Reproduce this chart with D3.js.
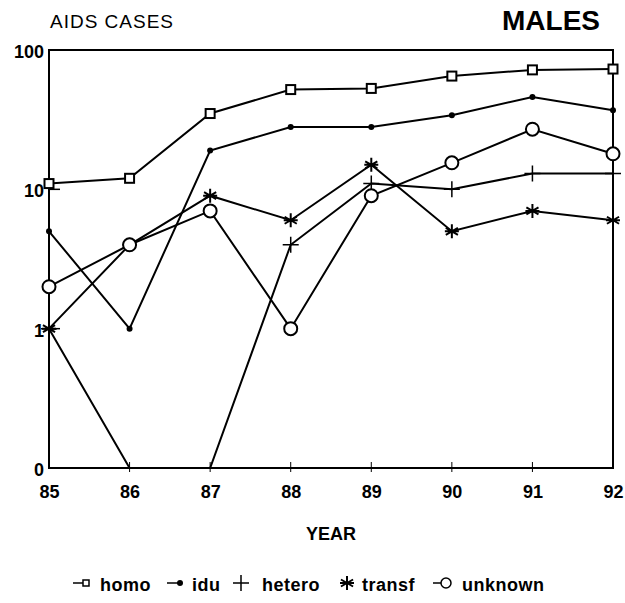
<!DOCTYPE html>
<html>
<head>
<meta charset="utf-8">
<script src="https://cdn.jsdelivr.net/npm/d3@7"></script>
<style>
  body { margin: 0; background: #fff; }
  text { font-family: "Liberation Sans", Arial, sans-serif; fill: #000; }
</style>
</head>
<body>
<script>
// years along the bottom (0 sits on the floor)
var years = [85, 86, 87, 88, 89, 90, 91, 92];
var homo = [11, 12, 35, 52, 53, 65, 72, 73];
var idu = [5, 1, 19, 28, 28, 34, 46, 37];
var hetero = [1, 0, 0, 4, 11, 10, 13, 13];
var transf = [1, 4, 9, 6, 15, 5, 7, 6];
var unknown = [2, 4, 7, 1, 9, 15.5, 27, 18];
var yTicks = [100, 10, 1, 0];
var seriesNames = ["homo", "idu", "hetero", "transf", "unknown"];

var series = [
  {name: seriesNames[0], values: homo, marker: "square"},
  {name: seriesNames[1], values: idu, marker: "dot"},
  {name: seriesNames[2], values: hetero, marker: "plus"},
  {name: seriesNames[3], values: transf, marker: "star"},
  {name: seriesNames[4], values: unknown, marker: "circle"}
];

var width = 625, height = 603;
var plotLeft = 49, plotRight = 613, plotTop = 50, plotBottom = 468;

var svg = d3.select("body").append("svg")
  .attr("width", width)
  .attr("height", height);

var x = d3.scaleLinear().domain([85, 92]).range([plotLeft, plotRight]);
var logY = d3.scaleLog().domain([0.1, 100]).range([plotBottom, plotTop]);
// zero can't go on a log scale, so it is pinned to the bottom decade
function y(v) { return logY(v <= 0 ? 0.1 : v); }

// frame
svg.append("rect")
  .attr("x", plotLeft).attr("y", plotTop)
  .attr("width", plotRight - plotLeft).attr("height", plotBottom - plotTop)
  .attr("fill", "none").attr("stroke", "#000").attr("stroke-width", 2);

// x ticks and labels
var xAxis = d3.axisBottom(x).tickValues(years).tickFormat(d3.format("d")).tickSize(0).tickPadding(17);
var gx = svg.append("g").attr("transform", "translate(0," + plotBottom + ")").call(xAxis);
gx.select(".domain").remove();
gx.selectAll("text").attr("font-size", 18).attr("font-weight", "bold")
  .attr("font-family", "Liberation Sans, Arial, sans-serif");
svg.selectAll(".xtick").data(years.slice(1, -1)).enter().append("line")
  .attr("x1", function(d) { return x(d); }).attr("x2", function(d) { return x(d); })
  .attr("y1", plotBottom - 6).attr("y2", plotBottom + 4)
  .attr("stroke", "#000").attr("stroke-width", 1);

// y labels
svg.selectAll(".ylab").data(yTicks).enter().append("text")
  .attr("x", plotLeft - 5)
  .attr("y", function(d) { return y(d) + 8; })
  .attr("text-anchor", "end")
  .attr("font-size", 18).attr("font-weight", "bold")
  .text(function(d) { return d; });
svg.selectAll(".ytick").data([10, 1]).enter().append("line")
  .attr("x1", plotLeft).attr("x2", plotLeft + 11)
  .attr("y1", function(d) { return y(d); }).attr("y2", function(d) { return y(d); })
  .attr("stroke", "#000").attr("stroke-width", 1.5);

// titles
svg.append("text").attr("x", 50).attr("y", 28)
  .attr("font-size", 19).attr("textLength", 123).text("AIDS CASES");
svg.append("text").attr("x", 502).attr("y", 30)
  .attr("font-size", 28).attr("font-weight", "bold").attr("textLength", 98).text("MALES");
svg.append("text").attr("x", 331).attr("y", 540).attr("text-anchor", "middle")
  .attr("font-size", 18).attr("font-weight", "bold").text("YEAR");

function drawMarker(g, type, cx, cy) {
  if (type == "square") {
    g.append("rect").attr("x", cx - 4.5).attr("y", cy - 4.5).attr("width", 9).attr("height", 9)
      .attr("fill", "#fff").attr("stroke", "#000").attr("stroke-width", 2);
  } else if (type == "dot") {
    g.append("circle").attr("cx", cx).attr("cy", cy).attr("r", 3).attr("fill", "#000");
  } else if (type == "plus") {
    g.append("path").attr("d", "M" + (cx - 8) + "," + cy + "H" + (cx + 8) + "M" + cx + "," + (cy - 8) + "V" + (cy + 8))
      .attr("stroke", "#000").attr("stroke-width", 1.5);
  } else if (type == "star") {
    var s = 7, p = "";
    [0, 60, 120].forEach(function(a) {
      var r = a * Math.PI / 180;
      p += "M" + (cx - s * Math.sin(r)) + "," + (cy - s * Math.cos(r)) + "L" + (cx + s * Math.sin(r)) + "," + (cy + s * Math.cos(r));
    });
    p += "M" + (cx - s) + "," + cy + "H" + (cx + s);
    g.append("path").attr("d", p).attr("stroke", "#000").attr("stroke-width", 2);
  } else {
    g.append("circle").attr("cx", cx).attr("cy", cy).attr("r", 6.5)
      .attr("fill", "#fff").attr("stroke", "#000").attr("stroke-width", 2);
  }
}

var line = d3.line()
  .x(function(d, i) { return x(years[i]); })
  .y(function(d) { return y(d); });

series.forEach(function(s) {
  var g = svg.append("g");
  g.append("path").attr("d", line(s.values))
    .attr("fill", "none").attr("stroke", "#000").attr("stroke-width", 2);
  s.values.forEach(function(v, i) {
    if (v > 0) drawMarker(g, s.marker, x(years[i]), y(v));
  });
});

// legend: marker centres and where each label starts
var legMark = [86, 180, 241, 347, 446];
var legText = [100, 192, 262, 362, 462];
var legY = 591;
series.forEach(function(s, i) {
  var g = svg.append("g");
  var mx = legMark[i], my = legY - 8;
  if (s.marker == "square" || s.marker == "dot" || s.marker == "circle") {
    g.append("line").attr("x1", mx - 13).attr("x2", mx).attr("y1", my).attr("y2", my)
      .attr("stroke", "#000").attr("stroke-width", 1.5);
  }
  if (s.marker == "circle") {
    g.append("circle").attr("cx", mx).attr("cy", my).attr("r", 5)
      .attr("fill", "#fff").attr("stroke", "#000").attr("stroke-width", 1.5);
  } else if (s.marker == "square") {
    g.append("rect").attr("x", mx - 3).attr("y", my - 3).attr("width", 6).attr("height", 6)
      .attr("fill", "#fff").attr("stroke", "#000").attr("stroke-width", 1.5);
  } else {
    drawMarker(g, s.marker, mx, my);
  }
  g.append("text").attr("x", legText[i]).attr("y", legY)
    .attr("font-size", 18).attr("font-weight", "bold").attr("letter-spacing", 0.5).text(s.name);
});
</script>
</body>
</html>
